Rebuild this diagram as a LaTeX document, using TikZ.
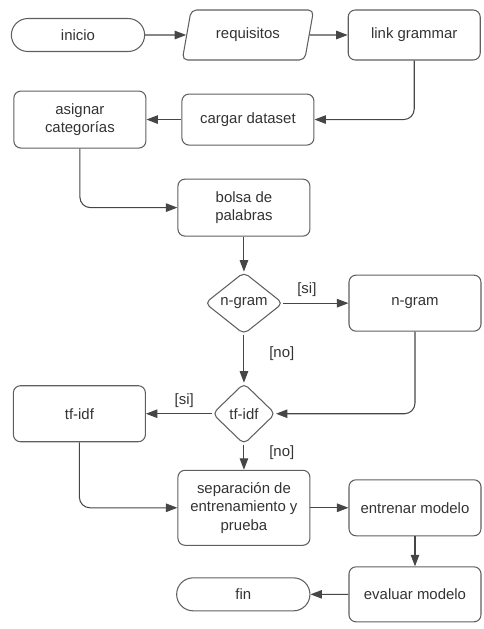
\documentclass[tikz,border=0pt]{standalone}
\usepackage{fontspec}
\setmainfont{Liberation Sans}
\usetikzlibrary{shapes.geometric, shapes.misc, arrows.meta, positioning}
\definecolor{flowline}{RGB}{70,70,70}
\definecolor{flowbox}{RGB}{95,95,95}
\definecolor{flowtext}{RGB}{51,51,51}

\begin{document}
\begin{tikzpicture}[
  node distance = 0.7cm,
  every node/.style = {font=\fontsize{8.5}{10.5}\selectfont, text=flowtext},
  terminal/.style = {rounded rectangle, draw=flowbox, line width=0.6pt, minimum width=2.9cm, minimum height=0.66cm},
  iobox/.style    = {trapezium, trapezium left angle=77, trapezium right angle=103, trapezium stretches=true, draw=flowbox, line width=0.6pt, rounded corners=3pt, minimum width=2.64cm, minimum height=1.0cm},
  proc/.style     = {rectangle, rounded corners=4pt, draw=flowbox, line width=0.6pt, minimum width=2.64cm, minimum height=#1, align=center},
  proc/.default   = 1.12cm,
  decision/.style = {diamond, rounded corners=3pt, draw=flowbox, line width=0.6pt, inner sep=0pt},
  arr/.style      = {-{Triangle[length=0.23cm, width=0.17cm]}, line width=0.6pt, draw=flowline, rounded corners=6pt},
  guard/.style    = {font=\fontsize{8.5}{10.5}\selectfont}
]
\useasboundingbox (0,0) rectangle (9.66,-12.58);
\node[terminal] (inicio) at (1.56,-0.70) {inicio};
\node[iobox,  right=0.82cm of inicio]     (requisitos) {requisitos};
\node[proc=1.0cm,  right=0.76cm of requisitos] (link) {link grammar};
\node[proc=1.02cm, below=0.66cm of requisitos] (cargar) {cargar dataset};
\node[proc=1.14cm, left=0.7cm of cargar]       (asignar) {asignar\\categorías};
\node[proc=1.14cm, below=0.66cm of cargar, xshift=-0.08cm] (bolsa) {bolsa de\\palabras};
\node[decision, minimum width=1.56cm, minimum height=1.24cm, below=0.7cm of bolsa] (ngramq) {n-gram};
\node[proc, right=1.3cm of ngramq]   (ngram) {n-gram};
\node[decision, minimum width=1.26cm, minimum height=1.22cm, below=0.96cm of ngramq] (tfidfq) {tf-idf};
\node[proc, left=1.32cm of tfidfq]   (tfidf) {tf-idf};
\node[proc=1.5cm, below=0.5cm of tfidfq] (separacion) {separación de\\entrenamiento y\\prueba};
\node[proc, right=0.76cm of separacion]   (entrenar) {entrenar modelo};
\node[proc=1.1cm, below=0.6cm of entrenar] (evaluar) {evaluar modelo};
\node[terminal, left=0.76cm of evaluar]    (fin) {fin};
\draw[arr] (inicio) -- (requisitos); \draw[arr] (requisitos) -- (link);
\draw[arr] (link.south) |- (cargar.east); \draw[arr] (cargar) -- (asignar);
\draw[arr] (asignar.south) |- (bolsa.west); \draw[arr] (bolsa) -- (ngramq);
\draw[arr] (ngramq) -- node[guard, above, pos=0.36] (sing) {[si]} (ngram);
\draw[arr] (ngramq) -- node[guard, right=0.38cm, pos=0.4] (nong) {[no]} (tfidfq);
\draw[arr] (ngram.south) |- (tfidfq.east);
\draw[arr] (tfidfq) -- node[guard, above, pos=0.42] (sitf) {[si]} (tfidf);
\draw[arr] (tfidfq) -- node[guard, right=0.38cm, pos=0.3] (notf) {[no]} (separacion);
\draw[arr] (tfidf.south) |- (separacion.west);
\draw[arr] (separacion) -- (entrenar); \draw[arr] (entrenar) -- (evaluar); \draw[arr] (evaluar) -- (fin);
\end{tikzpicture}
\end{document}
